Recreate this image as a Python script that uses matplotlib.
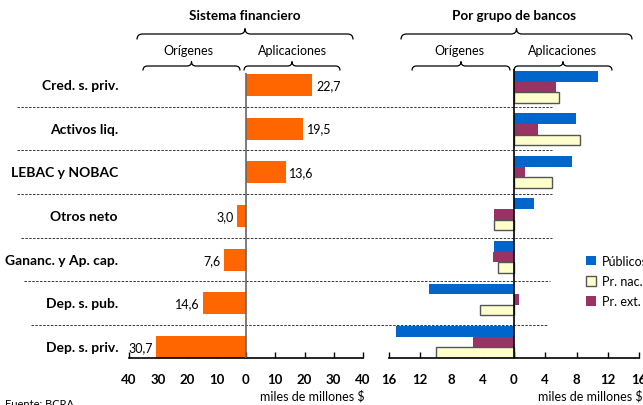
import numpy as np
import matplotlib
matplotlib.use("Agg")
from matplotlib import pyplot as plt
from matplotlib.path import Path
from matplotlib.patches import PathPatch
import matplotlib.transforms as mtransforms

plt.rcParams['font.family'] = ['Lato', 'DejaVu Sans']

# datos
categorias = ["Cred. s. priv.", "Activos liq.", "LEBAC y NOBAC", "Otros neto",
              "Gananc. y Ap. cap.", "Dep. s. pub.", "Dep. s. priv."]
sistema = [22.7, 19.5, 13.6, -3.0, -7.6, -14.6, -30.7]
publicos = [10.8, 7.9, 7.4, 2.5, -2.6, -10.9, -15.1]
pr_ext = [5.4, 3.1, 1.4, -2.5, -2.7, 0.6, -5.3]
pr_nac = [5.7, 8.5, 4.9, -2.6, -2.0, -4.3, -10.0]
ticks_izq = [-40, -30, -20, -10, 0, 10, 20, 30, 40]
ticks_der = [-16, -12, -8, -4, 0, 4, 8, 12, 16]

naranja = "#FF6600"
azul = "#0066CC"
bordo = "#993366"
crema = "#FFFFCC"
negrita = "bold"

W, H = 643, 406
fig = plt.figure(figsize=(W / 100, H / 100), dpi=100)

# capa para textos y llaves en pixeles
ov = fig.add_axes([0, 0, 1, 1])
ov.set_xlim(0, W)
ov.set_ylim(H, 0)
ov.axis("off")

def ax_px(x0, x1, y0, y1):
    return fig.add_axes([x0 / W, 1 - y1 / H, (x1 - x0) / W, (y1 - y0) / H])

y = np.arange(len(categorias))

# panel izquierdo
ax1 = ax_px(129, 363, 70, 359)
ax1.patch.set_alpha(0)
ax1.barh(y, sistema, height=0.5, color=naranja, zorder=2)
ax1.set_xlim(-40, 40)
ax1.set_ylim(6.252, -0.366)
ax1.vlines(0, -0.27, 6.252, color="#666666", lw=1.2, zorder=3)
for i, v in enumerate(sistema):
    txt = f"{abs(v):.1f}".replace(".", ",")
    if v >= 0:
        ax1.text(v + 1.2, i, txt, va="center", ha="left", fontsize=9)
    else:
        ax1.text(v - 1.2, i, txt, va="center", ha="right", fontsize=9)

trans = mtransforms.blended_transform_factory(ov.transData, ax1.transData)
for i, c in enumerate(categorias):
    ov.text(118, i, c, ha="right", va="center", fontsize=10, fontweight=negrita,
            transform=trans)

# panel derecho
ax2 = ax_px(389, 639, 70, 359)
ax2.patch.set_alpha(0)
h = 0.25
b1 = ax2.barh(y - h, publicos, height=h, color=azul, zorder=2, label="Públicos")
b3 = ax2.barh(y, pr_ext, height=h, color=bordo, zorder=2, label="Pr. ext.")
b2 = ax2.barh(y + h, pr_nac, height=h, color=crema, edgecolor="#555555", lw=1,
              zorder=2, label="Pr. nac.")
ax2.set_xlim(-16, 16)
ax2.set_ylim(6.376, -0.42)
ax2.axvline(0, color="black", lw=1.2, zorder=3)

for ax, tk in ((ax1, ticks_izq), (ax2, ticks_der)):
    for s in ("left", "right", "top"):
        ax.spines[s].set_visible(False)
    ax.spines["bottom"].set_linewidth(1.2)
    ax.set_yticks([])
    ax.set_xticks(tk)
    ax.set_xticklabels([str(abs(t)) for t in tk], fontsize=9.5, fontweight=negrita)
    ax.tick_params(axis="x", direction="in", length=4, width=1, pad=11)

# lineas punteadas entre categorias
limites = [(17, 552), (17, 552), (17, 552), (21, 552), (24, 550), (31, 548)]
for k, (xa, xb) in enumerate(limites):
    ov.plot([xa, xb], [k + 0.5, k + 0.5], transform=trans, color="#333333",
            lw=0.7, ls=(0, (2.5, 1.5)), zorder=1, clip_on=False)

fig.legend(handles=[b1, b2, b3], labels=["Públicos", "Pr. nac.", "Pr. ext."],
           loc="upper left", bbox_to_anchor=(581 / W, 1 - 251 / H), frameon=False,
           fontsize=9, handlelength=0.8, handleheight=0.8, handletextpad=0.5,
           labelspacing=0.65, borderaxespad=0)

def llave(x0, x1, yb, alto):
    # llave horizontal con punta hacia arriba
    xm = (x0 + x1) / 2
    r = alto * 0.5
    verts = [(x0, yb + r), (x0, yb), (x0 + r, yb),
             (xm - r, yb), (xm, yb), (xm, yb - r),
             (xm, yb), (xm + r, yb),
             (x1 - r, yb), (x1, yb), (x1, yb + r)]
    codes = [Path.MOVETO, Path.CURVE3, Path.CURVE3,
             Path.LINETO, Path.CURVE3, Path.CURVE3,
             Path.CURVE3, Path.CURVE3,
             Path.LINETO, Path.CURVE3, Path.CURVE3]
    ov.add_patch(PathPatch(Path(verts, codes), fill=False, lw=0.9, color="black"))

llave(137, 353, 35, 11)
llave(143, 240, 67, 9)
llave(244, 340, 67, 9)
llave(401, 632, 35, 11)
llave(412, 510, 67, 9)
llave(514, 612, 67, 9)

ov.text(245, 16, "Sistema financiero", ha="center", va="center", fontsize=9.7,
        fontweight=negrita)
ov.text(514, 16, "Por grupo de bancos", ha="center", va="center", fontsize=9.7,
        fontweight=negrita)
for xx, t in ((188, "Orígenes"), (292, "Aplicaciones"),
              (459, "Orígenes"), (562, "Aplicaciones")):
    ov.text(xx, 51, t, ha="center", va="center", fontsize=9)

ov.text(365, 396, "miles de millones $", ha="right", va="center", fontsize=9)
ov.text(643, 396, "miles de millones $", ha="right", va="center", fontsize=9)
ov.text(5, 399, "Fuente: BCRA", ha="left", va="top", fontsize=8)

fig.savefig("out.png", dpi=100)
